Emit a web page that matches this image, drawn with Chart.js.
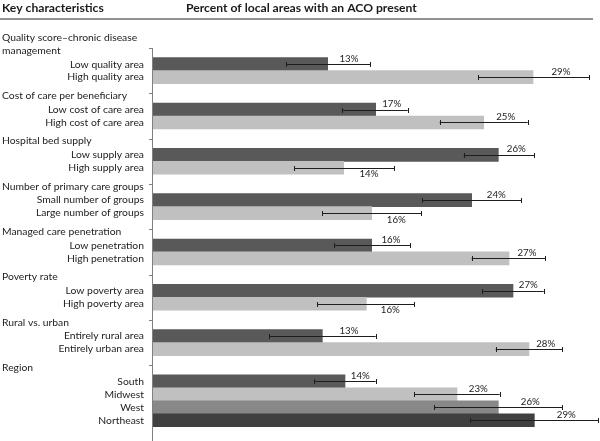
<!DOCTYPE html>
<html>
<head>
<meta charset="utf-8">
<script src="https://cdn.jsdelivr.net/npm/chart.js@4/dist/chart.umd.min.js"></script>
<style>
  html, body { margin: 0; padding: 0; background: #fff; }
  #wrap { width: 600px; height: 441px; position: relative; }
</style>
</head>
<body>
<div id="wrap"><canvas id="c"></canvas></div>
<script>
const groupTitles = [
  'Quality score\u2013chronic disease management',
  'Cost of care per beneficiary',
  'Hospital bed supply',
  'Number of primary care groups',
  'Managed care penetration',
  'Poverty rate',
  'Rural vs. urban',
  'Region',
];
const groupSizes = [2, 2, 2, 2, 2, 2, 2, 4];
const categories = [
  'Low quality area', 'High quality area',
  'Low cost of care area', 'High cost of care area',
  'Low supply area', 'High supply area',
  'Small number of groups', 'Large number of groups',
  'Low penetration', 'High penetration',
  'Low poverty area', 'High poverty area',
  'Entirely rural area', 'Entirely urban area',
  'South', 'Midwest', 'West', 'Northeast',
];
const values = [13.1, 28.5, 16.7, 24.8, 25.9, 14.3, 23.9, 16.4, 16.4, 26.7, 27.0, 16.0, 12.7, 28.2, 14.4, 22.8, 25.9, 28.6];
const errLow = [10.0, 24.4, 14.2, 21.5, 23.3, 10.6, 20.2, 12.7, 13.6, 23.9, 24.7, 12.3, 8.7, 25.7, 12.1, 19.6, 21.1, 23.8];
const errHigh = [16.3, 32.7, 19.1, 28.1, 28.6, 18.1, 27.6, 20.1, 19.3, 29.4, 29.3, 19.6, 16.7, 30.7, 16.7, 26.0, 30.7, 33.4];
const headers = ['Key characteristics', 'Percent of local areas with an ACO present'];

const shades = ['#595959', '#c0c0c0', '#888888', '#404040'];
const FONT = 'Lato, "Open Sans", sans-serif';

// row layout: each group has a gap of 1.5 rows around its bars
const groupStart = [];
const rowPos = [];
const rowShade = [];
const rowInGroup = [];
let pos = 0;
groupSizes.forEach((n, g) => {
  groupStart.push(pos);
  for (let i = 0; i < n; i++) {
    rowPos.push(pos + 1.25 + i);
    rowShade.push(shades[i]);
    rowInGroup.push(i);
  }
  pos += n + 1.5;
});

// pick font sizes so that text widths match the original (narrow Calibri look)
function fitSize(ctx, weight, text, target) {
  ctx.font = weight + ' 20px ' + FONT;
  return 20 * target / ctx.measureText(text).width;
}

function wrapText(ctx, text, maxW) {
  const words = text.split(' ');
  const lines = [];
  let cur = '';
  words.forEach(w => {
    const t = cur ? cur + ' ' + w : w;
    if (ctx.measureText(t).width > maxW && cur) {
      lines.push(cur);
      cur = w;
    } else cur = t;
  });
  lines.push(cur);
  return lines;
}

const decor = {
  id: 'decor',
  afterDatasetsDraw(chart) {
    const { ctx, chartArea, scales } = chart;
    const xs = scales.x, ys = scales.y;
    const x0 = xs.getPixelForValue(0);
    ctx.save();

    const boldSize = fitSize(ctx, 'bold', headers[1], 231);
    const regSize = fitSize(ctx, 'normal', 'Number of primary care groups', 142);
    const numSize = fitSize(ctx, 'normal', '13%', 19);

    // header
    ctx.fillStyle = '#1a1a1a';
    ctx.font = 'bold ' + boldSize + 'px ' + FONT;
    ctx.textBaseline = 'middle';
    ctx.textAlign = 'left';
    ctx.fillText(headers[0], 2, 8);
    ctx.fillText(headers[1], 186, 8);
    ctx.strokeStyle = '#6e6e6e';
    ctx.lineWidth = 1.5;
    ctx.beginPath();
    ctx.moveTo(0, 19);
    ctx.lineTo(593, 19);
    ctx.stroke();

    // axis line and group ticks
    ctx.strokeStyle = '#808080';
    ctx.lineWidth = 1;
    ctx.beginPath();
    ctx.moveTo(Math.round(x0) - 0.5, chartArea.top);
    ctx.lineTo(Math.round(x0) - 0.5, chart.height);
    groupStart.forEach(s => {
      const y = Math.round(ys.getPixelForValue(s)) + 0.5;
      ctx.moveTo(x0 - 4, y);
      ctx.lineTo(x0, y);
    });
    ctx.stroke();

    // group titles
    ctx.font = regSize + 'px ' + FONT;
    ctx.fillStyle = '#222';
    ctx.textAlign = 'left';
    groupTitles.forEach((t, g) => {
      const lines = wrapText(ctx, t, 148);
      const yb = ys.getPixelForValue(groupStart[g]) + 2.5;
      lines.forEach((ln, k) => {
        ctx.fillText(ln, 2, yb - (lines.length - 1 - k) * 12.5);
      });
    });

    // row labels
    ctx.textAlign = 'right';
    categories.forEach((c, i) => {
      ctx.fillText(c, x0 - 9, ys.getPixelForValue(rowPos[i]));
    });

    // error bars
    ctx.strokeStyle = '#1e1e1e';
    ctx.lineWidth = 1;
    values.forEach((v, i) => {
      const y = Math.round(ys.getPixelForValue(rowPos[i])) + 0.5;
      const a = xs.getPixelForValue(errLow[i]);
      const b = xs.getPixelForValue(errHigh[i]);
      ctx.beginPath();
      ctx.moveTo(a, y); ctx.lineTo(b, y);
      ctx.moveTo(Math.round(a) + 0.5, y - 2.5); ctx.lineTo(Math.round(a) + 0.5, y + 2.5);
      ctx.moveTo(Math.round(b) + 0.5, y - 2.5); ctx.lineTo(Math.round(b) + 0.5, y + 2.5);
      ctx.stroke();
    });

    // value labels
    ctx.font = numSize + 'px ' + FONT;
    ctx.textAlign = 'center';
    ctx.fillStyle = '#222';
    values.forEach((v, i) => {
      const y = ys.getPixelForValue(rowPos[i]);
      const xm = (xs.getPixelForValue(v) + xs.getPixelForValue(errHigh[i])) / 2;
      const below = rowInGroup[i] > 0 && values[i - 1] > v;
      ctx.fillText(Math.round(v) + '%', xm, below ? y + 6.5 : y - 5.5);
    });

    ctx.restore();
  }
};

new Chart(document.getElementById('c'), {
  type: 'bar',
  data: {
    datasets: [{
      data: values.map((v, i) => ({ x: v, y: rowPos[i] })),
      backgroundColor: rowShade,
      borderWidth: 0,
      barThickness: 13,
    }],
  },
  options: {
    indexAxis: 'y',
    responsive: true,
    maintainAspectRatio: false,
    animation: false,
    events: [],
    layout: { padding: { top: 48, left: 153, right: 7, bottom: 0 } },
    plugins: { legend: { display: false }, tooltip: { enabled: false } },
    scales: {
      x: { type: 'linear', min: 0, max: 33, display: false },
      y: { type: 'linear', min: 0, max: 30.35, reverse: true, offset: false, display: false },
    },
  },
  plugins: [decor],
});
</script>
</body>
</html>
